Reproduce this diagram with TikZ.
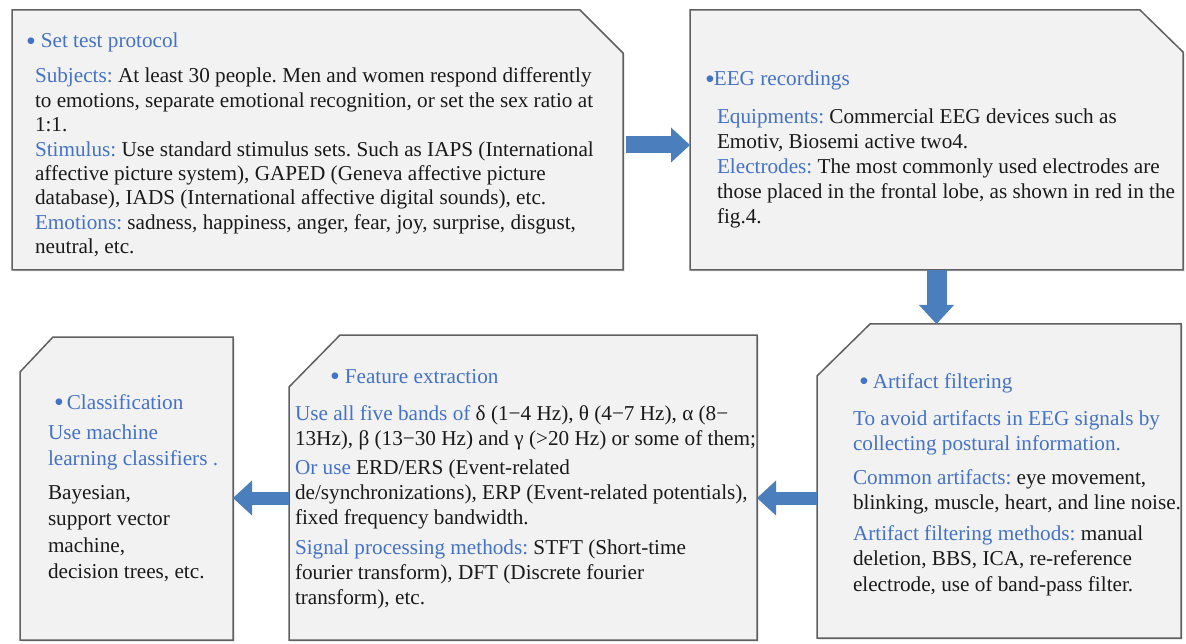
\documentclass[tikz,border=0pt]{standalone}
\usepackage{fontspec}
\setmainfont{Liberation Serif}
\usetikzlibrary{calc,arrows.meta,shadows}
\definecolor{hblue}{HTML}{4472C4}
\definecolor{tblack}{HTML}{1A1A1A}
\definecolor{boxfill}{HTML}{F2F2F2}
\definecolor{boxline}{HTML}{606060}
\definecolor{arrblue}{HTML}{4A7EBD}
\newcommand{\hl}[1]{\textcolor{hblue}{#1}}
\newcommand{\bul}{\raisebox{-2.6pt}{\fontsize{28}{28}\selectfont •}}
\frenchspacing
\begin{document}
\begin{tikzpicture}[x=1pt,y=-1pt,
  boxnode/.style={rectangle, inner sep=0, outer sep=0},
  boxshape/.style={fill=boxfill, draw=boxline, line width=1.5pt, line join=miter,
    drop shadow={shadow xshift=1.5pt, shadow yshift=-1.5pt, opacity=0.25}},
  para/.style={anchor=north west, inner sep=0, outer sep=0, align=left, text=tblack},
  head/.style={anchor=base west, inner sep=0, outer sep=0, text=hblue, font=\fontsize{21.2}{25}\selectfont},
  blockarrow/.style={draw=arrblue, line width=#1, -{Triangle[length=19pt, width=35pt, line width=0pt]}}
]
\useasboundingbox (0,0) rectangle (1186,644);

% ---------- box frames (named nodes) ----------
\node[boxnode, minimum width=611pt, minimum height=260pt] (b1) at (317.5,140) {};
\node[boxnode, minimum width=493pt, minimum height=260pt] (b2) at (936.5,140) {};
\node[boxnode, minimum width=364pt, minimum height=314pt] (b3) at (999,481) {};
\node[boxnode, minimum width=468pt, minimum height=305pt] (b4) at (523,487.5) {};
\node[boxnode, minimum width=213pt, minimum height=303pt] (b5) at (126.5,488.5) {};

\draw[boxshape] (b1.north west) -- ($(b1.north east)+(-43,0)$) -- ($(b1.north east)+(0,43)$)
  -- (b1.south east) -- (b1.south west) -- cycle;
\draw[boxshape] (b2.north west) -- ($(b2.north east)+(-43,0)$) -- ($(b2.north east)+(0,42)$)
  -- (b2.south east) -- (b2.south west) -- cycle;
\draw[boxshape] ($(b3.north west)+(53,0)$) -- (b3.north east) -- (b3.south east)
  -- (b3.south west) -- ($(b3.north west)+(0,52)$) -- cycle;
\draw[boxshape] ($(b4.north west)+(51,0)$) -- (b4.north east) -- (b4.south east)
  -- (b4.south west) -- ($(b4.north west)+(0,52)$) -- cycle;
\draw[boxshape] ($(b5.north west)+(33,0)$) -- (b5.north east) -- (b5.south east)
  -- (b5.south west) -- ($(b5.north west)+(0,35)$) -- cycle;

% ---------- arrows ----------
\coordinate (a1s) at ($(b1.east)+(3,5)$);
\draw[blockarrow=17pt] (a1s) -- (a1s -| b2.west);
\draw[blockarrow=20pt] (b2.south) -- (b2.south |- b3.north);
\coordinate (a3s) at ($(b3.west)+(0,17)$);
\draw[blockarrow=13pt] (a3s) -- (a3s -| b4.east);
\coordinate (a4s) at ($(b4.west)+(0,10.5)$);
\draw[blockarrow=13pt] (a4s) -- (a4s -| b5.east);

% ---------- box 1 ----------
\node[head] (h1) at (26,48) {\bul\hspace{5pt}Set test protocol};
\node[para, font=\fontsize{21.2}{24.4}\selectfont] (t1) at (35,65.9) {\strut\hl{Subjects:} At least 30 people. Men and women respond differently\\
to emotions, separate emotional recognition, or set the sex ratio at\\
1:1.\\
\hl{Stimulus:} Use standard stimulus sets. Such as IAPS (International\\
affective picture system), GAPED (Geneva affective picture\\
database), IADS (International affective digital sounds), etc.\\
\hl{Emotions:} sadness, happiness, anger, fear, joy, surprise, disgust,\\
neutral, etc.};

% ---------- box 2 ----------
\node[head] (h2) at (705,86) {\bul\hspace{-1pt}EEG recordings};
\node[para, font=\fontsize{21.2}{25.2}\selectfont] (t2) at (717,105.4) {\strut\hl{Equipments:} Commercial EEG devices such as\\
Emotiv, Biosemi active two4.\\
\hl{Electrodes:} The most commonly used electrodes are\\
those placed in the frontal lobe, as shown in red in the\\
fig.4.};

% ---------- box 3 ----------
\node[head] (h3) at (859,388) {\bul\hspace{4pt}Artifact filtering};
\node[para, font=\fontsize{21.2}{25.5}\selectfont, text=hblue] (t3a) at (853,407.2) {\strut To avoid artifacts in EEG signals by\\
collecting postural information.};
\node[para, font=\fontsize{21.2}{25.5}\selectfont] (t3b) at (853,466.2) {\strut\hl{Common artifacts:} eye movement,\\
blinking, muscle, heart, and line noise.};
\node[para, font=\fontsize{21.2}{25.5}\selectfont] (t3c) at (853,522.2) {\strut\hl{Artifact filtering methods:} manual\\
deletion, BBS, ICA, re-reference\\
electrode, use of band-pass filter.};

% ---------- box 4 ----------
\node[head] (h4) at (330,383) {\bul\hspace{5pt}Feature extraction};
\node[para, font=\fontsize{21.2}{25}\selectfont] (t4a) at (295,402.5) {\strut\hl{Use all five bands of} δ (1−4 Hz), θ (4−7 Hz), α (8−\\
13Hz), β (13−30 Hz) and γ (>20 Hz) or some of them;};
\node[para, font=\fontsize{21.2}{25}\selectfont] (t4b) at (295,456.5) {\strut\hl{Or use} ERD/ERS (Event-related\\
de/synchronizations), ERP (Event-related potentials),\\
fixed frequency bandwidth.};
\node[para, font=\fontsize{21.2}{25}\selectfont] (t4c) at (295,536.5) {\strut\hl{Signal processing methods:} STFT (Short-time\\
fourier transform), DFT (Discrete fourier\\
transform), etc.};

% ---------- box 5 ----------
\node[head] (h5) at (54,409) {\bul\hspace{3pt}Classification};
\node[para, font=\fontsize{21.2}{26.5}\selectfont, text=hblue] (t5a) at (48,420.5) {\strut Use machine\\
learning classifiers .};
\node[para, font=\fontsize{21.2}{26.5}\selectfont] (t5b) at (48,480.5) {\strut Bayesian,\\
support vector\\
machine,\\
decision trees, etc.};
\end{tikzpicture}
\end{document}
